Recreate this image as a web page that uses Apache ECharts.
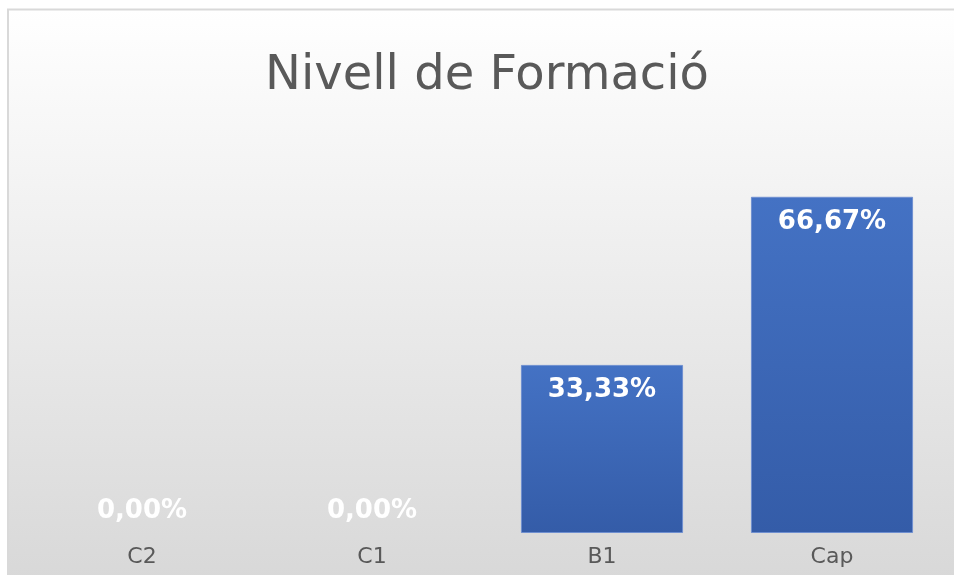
<!DOCTYPE html>
<html>
<head>
<meta charset="utf-8">
<script src="https://cdn.jsdelivr.net/npm/echarts@6/dist/echarts.min.js"></script>
<style>
  html, body { margin: 0; padding: 0; background: #fff; overflow: hidden; }
  #main { width: 954px; height: 575px; }
</style>
</head>
<body>
<div id="main"></div>
<script>
var chartTitle = 'Nivell de Formació'
var categories = ['C2', 'C1', 'B1', 'Cap']
var values = [0, 0, 33.33, 66.67]

var chart = echarts.init(document.getElementById('main'))

// zero bars keep their label above the baseline, like the original
var barData = values.map(function (v) {
  return {
    value: v,
    label: v === 0 ? { position: 'insideBottom', distance: 9 } : { position: 'insideTop' },
    itemStyle: { borderWidth: v === 0 ? 0 : 1 }
  }
})

var option = {
  animation: false,
  textStyle: { fontFamily: 'DejaVu Sans' },
  graphic: [{
    type: 'rect',
    z: -100,
    silent: true,
    shape: { x: 8, y: 9.5, width: 980, height: 600 },
    style: {
      fill: new echarts.graphic.LinearGradient(0, 0, 0, 1, [
        { offset: 0, color: '#ffffff' },
        { offset: 1, color: '#d6d6d6' }
      ]),
      stroke: '#d9d9d9',
      lineWidth: 2
    }
  }],
  title: {
    text: chartTitle,
    left: 482,
    textAlign: 'center',
    top: 48,
    textStyle: { fontSize: 48, fontWeight: 'normal', color: '#595959', fontFamily: 'DejaVu Sans' }
  },
  grid: { left: 27, right: 7, top: 180, bottom: 42, containLabel: false },
  xAxis: {
    type: 'category',
    data: categories,
    axisLine: { show: false },
    axisTick: { show: false },
    axisLabel: { color: '#595959', fontSize: 22, margin: 13, fontFamily: 'DejaVu Sans' }
  },
  yAxis: {
    type: 'value',
    min: 0,
    max: 70,
    show: false,
    splitLine: { show: false }
  },
  series: [{
    type: 'bar',
    data: barData,
    barCategoryGap: '29.5%',
    itemStyle: {
      color: new echarts.graphic.LinearGradient(0, 0, 0, 1, [
        { offset: 0, color: '#4472c4' },
        { offset: 1, color: '#345ca8' }
      ]),
      borderColor: '#6f8fd0'
    },
    label: {
      show: true,
      color: '#ffffff',
      fontSize: 26,
      fontWeight: 'bold',
      fontFamily: 'DejaVu Sans',
      distance: 12,
      formatter: function (p) {
        return p.value.toFixed(2).replace('.', ',') + '%'
      }
    }
  }]
}

chart.setOption(option)
</script>
</body>
</html>
